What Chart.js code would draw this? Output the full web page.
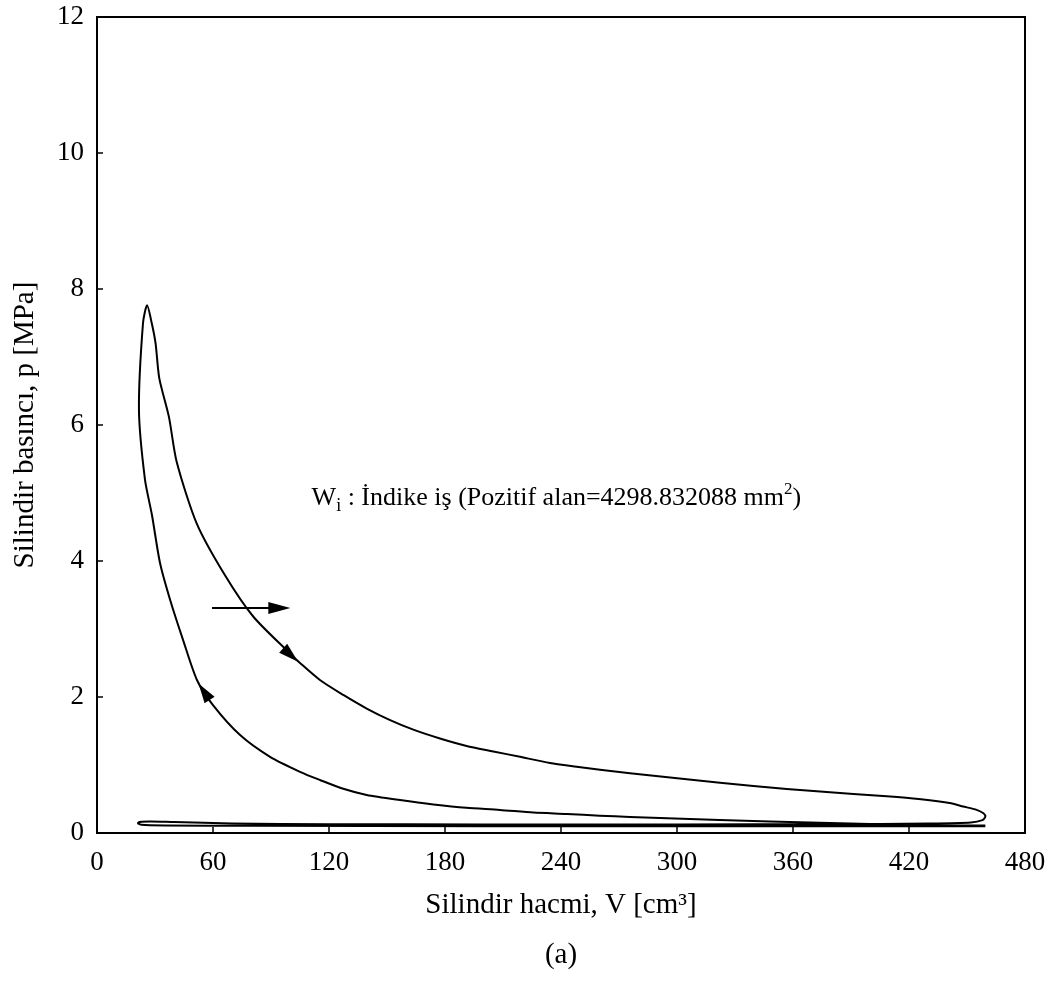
<!DOCTYPE html>
<html>
<head>
<meta charset="utf-8">
<script src="https://cdn.jsdelivr.net/npm/chart.js@4.4.1/dist/chart.umd.min.js"></script>
<style>
  html, body { margin: 0; padding: 0; background: #fff; }
</style>
</head>
<body>
<canvas id="pv" width="1059" height="989"></canvas>
<script>
// cycle traced in order: compression, combustion + expansion, exhaust, intake
var volume = [
  459.5, 440, 415, 374, 322, 275.7, 260, 243, 225.7, 208.4, 191, 174, 156.7, 139.5, 127.4, 115.3, 105, 89.5, 74, 60,
  51.7, 44.5, 37.8, 32.6, 28.4, 24.8, 21.7,
  23.8, 25.9, 28.3, 30.3, 32.2, 37.2, 41.2, 51.6, 66.2, 80.9, 99.8, 105, 115.3, 127.4, 139.5, 151.6, 163.6, 177.4,
  191.2, 205, 218.8, 234.3, 248.1, 260.2, 275.7, 305, 339.5, 374, 408.5, 425, 441, 448, 455, 458.5, 459.5, 458, 452,
  430, 380, 300, 200, 120, 70, 40, 28, 23, 21.2,
  23, 35, 80, 200, 320, 459.5
];
var pressure = [
  0.11, 0.112, 0.12, 0.15, 0.19, 0.235, 0.255, 0.28, 0.30, 0.34, 0.37, 0.42, 0.485, 0.56, 0.65, 0.78, 0.90, 1.12, 1.44, 1.88,
  2.25, 2.84, 3.43, 3.97, 4.68, 5.2, 6.22,
  7.5, 7.76, 7.5, 7.2, 6.69, 6.12, 5.46, 4.55, 3.79, 3.18, 2.64, 2.5, 2.25, 2.03, 1.83, 1.66, 1.52, 1.39,
  1.28, 1.2, 1.12, 1.03, 0.975, 0.93, 0.88, 0.79, 0.69, 0.61, 0.54, 0.5, 0.44, 0.39, 0.34, 0.29, 0.24, 0.19, 0.155,
  0.14, 0.13, 0.125, 0.125, 0.13, 0.14, 0.16, 0.17, 0.165, 0.145,
  0.12, 0.11, 0.105, 0.1, 0.1, 0.1
];
var xTicks = [0, 60, 120, 180, 240, 300, 360, 420, 480];
var yTicks = [0, 2, 4, 6, 8, 10, 12];

var xTitle = "Silindir hacmi, V [cm³]";
var subTitle = "(a)";
var yTitle = "Silindir basıncı, p [MPa]";

// label pieces: W, subscript i, text, superscript 2, closing bracket
var workLabel = ["W", "i", " : İndike iş (Pozitif alan=4298.832088 mm", "2", ")"];
var workLabelAt = [111, 4.82];

// arrows in data units: [tailV, tailP, tipV, tipP]
var flowArrow = [59.5, 3.31, 100, 3.31];
var curveArrows = [
  [93, 2.8, 104, 2.52],
  [60, 1.88, 52.5, 2.2]
];

var serif = "'Liberation Serif', 'Times New Roman', serif";

function arrowHead(ctx, x0, y0, x1, y1, len, half) {
  var a = Math.atan2(y1 - y0, x1 - x0);
  var c = Math.cos(a), s = Math.sin(a);
  ctx.beginPath();
  ctx.moveTo(x1, y1);
  ctx.lineTo(x1 - len * c + half * s, y1 - len * s - half * c);
  ctx.lineTo(x1 - len * c - half * s, y1 - len * s + half * c);
  ctx.closePath();
  ctx.fill();
}

var decor = {
  id: "decor",
  afterDatasetsDraw: function (chart) {
    var ctx = chart.ctx;
    var xs = chart.scales.x, ys = chart.scales.y, area = chart.chartArea;
    ctx.save();
    ctx.strokeStyle = "#000";
    ctx.fillStyle = "#000";

    // box round the plot
    ctx.lineWidth = 2;
    ctx.strokeRect(area.left, area.top, area.right - area.left, area.bottom - area.top);

    // inward tick marks on left and bottom
    ctx.lineWidth = 1.5;
    xs.ticks.forEach(function (t) {
      var px = xs.getPixelForValue(t.value);
      ctx.beginPath();
      ctx.moveTo(px, area.bottom);
      ctx.lineTo(px, area.bottom - 6);
      ctx.stroke();
    });
    ys.ticks.forEach(function (t) {
      var py = ys.getPixelForValue(t.value);
      ctx.beginPath();
      ctx.moveTo(area.left, py);
      ctx.lineTo(area.left + 6, py);
      ctx.stroke();
    });

    // horizontal arrow
    var ax0 = xs.getPixelForValue(flowArrow[0]), ay0 = ys.getPixelForValue(flowArrow[1]);
    var ax1 = xs.getPixelForValue(flowArrow[2]), ay1 = ys.getPixelForValue(flowArrow[3]);
    ctx.lineWidth = 2;
    ctx.beginPath();
    ctx.moveTo(ax0, ay0);
    ctx.lineTo(ax1 - 10, ay1);
    ctx.stroke();
    arrowHead(ctx, ax0, ay0, ax1, ay1, 22, 6);

    // arrow heads sitting on the curve
    curveArrows.forEach(function (a) {
      arrowHead(ctx,
        xs.getPixelForValue(a[0]), ys.getPixelForValue(a[1]),
        xs.getPixelForValue(a[2]), ys.getPixelForValue(a[3]), 20, 6);
    });

    // W_i label
    var lx = xs.getPixelForValue(workLabelAt[0]);
    var ly = ys.getPixelForValue(workLabelAt[1]);
    ctx.textBaseline = "alphabetic";
    ctx.textAlign = "left";
    ctx.font = "26px " + serif;
    ctx.fillText(workLabel[0], lx, ly);
    lx += ctx.measureText(workLabel[0]).width;
    ctx.font = "18px " + serif;
    ctx.fillText(workLabel[1], lx, ly + 6);
    lx += ctx.measureText(workLabel[1]).width;
    ctx.font = "26px " + serif;
    ctx.fillText(workLabel[2], lx, ly);
    lx += ctx.measureText(workLabel[2]).width;
    ctx.font = "17px " + serif;
    ctx.fillText(workLabel[3], lx, ly - 11);
    lx += ctx.measureText(workLabel[3]).width;
    ctx.font = "26px " + serif;
    ctx.fillText(workLabel[4], lx, ly);

    ctx.restore();
  }
};

var points = volume.map(function (v, i) {
  return { x: v, y: pressure[i] };
});

new Chart(document.getElementById("pv"), {
  type: "scatter",
  data: {
    datasets: [
      {
        data: points,
        showLine: true,
        borderColor: "#000",
        borderWidth: 2,
        pointRadius: 0,
        fill: false,
        tension: 0.25,
      },
    ],
  },
  options: {
    responsive: false,
    animation: false,
    devicePixelRatio: 1,
    layout: { padding: { left: 0, right: 34, top: 17, bottom: 0 } },
    plugins: {
      legend: { display: false },
      tooltip: { enabled: false },
    },
    scales: {
      x: {
        type: "linear",
        min: 0,
        max: 480,
        afterBuildTicks: function (s) {
          s.ticks = xTicks.map(function (v) { return { value: v }; });
        },
        afterFit: function (s) {
          s.height = 156;
          s.paddingLeft = 0;
          s.paddingRight = 0;
        },
        grid: { display: false, drawTicks: false },
        border: { display: false },
        ticks: {
          color: "#000",
          font: { family: serif, size: 27 },
          padding: 14,
          maxRotation: 0,
          autoSkip: false,
        },
        title: {
          display: true,
          text: [xTitle, subTitle],
          color: "#000",
          font: { family: serif, size: 29, lineHeight: "50px" },
          padding: { top: 0, bottom: 9 },
        },
      },
      y: {
        type: "linear",
        min: 0,
        max: 12,
        afterBuildTicks: function (s) {
          s.ticks = yTicks.map(function (v) { return { value: v }; });
        },
        afterFit: function (s) {
          s.width = 97;
          s.paddingTop = 0;
          s.paddingBottom = 0;
        },
        grid: { display: false, drawTicks: false },
        border: { display: false },
        ticks: {
          color: "#000",
          font: { family: serif, size: 27 },
          padding: 13,
        },
        title: {
          display: true,
          text: yTitle,
          color: "#000",
          font: { family: serif, size: 29 },
          padding: { top: 8, bottom: 0 },
        },
      },
    },
  },
  plugins: [decor],
});
</script>
</body>
</html>
